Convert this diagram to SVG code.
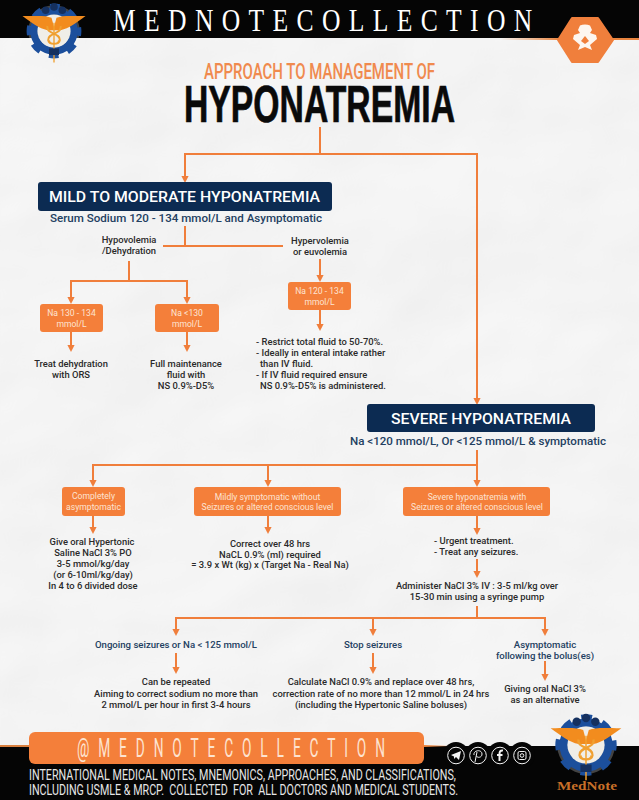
<svg xmlns="http://www.w3.org/2000/svg" width="639" height="800" viewBox="0 0 639 800">
<style>
.l{fill:none;stroke:#f07e3b;stroke-width:2}
.b{fill:#f47f3a}
.n{fill:#0c2b52}
text{font-family:"Roboto","Liberation Sans",sans-serif;text-anchor:middle}
.t{font-size:9.4px;fill:#2a2a2a;font-weight:500}
.ts{font-size:9.4px;fill:#2a2a2a;font-weight:500;text-anchor:start}
.w{font-size:8.6px;fill:#fde4d3}
.s{fill:#234061;font-weight:500}
.c{font-size:9.6px;fill:#234061;font-weight:500}
.i{fill:none;stroke:#f4f4f4;stroke-width:1}
</style>
<defs>
<filter id="paper" x="0" y="0" width="100%" height="100%">
<feTurbulence type="fractalNoise" baseFrequency="0.006 0.008" numOctaves="3" seed="11" result="n"/>
<feDiffuseLighting in="n" surfaceScale="3" diffuseConstant="1.06" lighting-color="#f8f8f8"><feDistantLight azimuth="45" elevation="65"/></feDiffuseLighting>
</filter>
<marker id="a" markerWidth="8" markerHeight="8" refX="2" refY="4" orient="auto" markerUnits="userSpaceOnUse"><path d="M0 0.4L7 4L0 7.6Z" fill="#f07e3b"/></marker>
<linearGradient id="fadeL" x1="0" x2="1" y1="0" y2="0"><stop offset="0" stop-color="#e8843f" stop-opacity="0"/><stop offset="1" stop-color="#e8843f"/></linearGradient>
<linearGradient id="fadeB" x1="0" x2="1" y1="0" y2="0"><stop offset="0" stop-color="#e8843f"/><stop offset="1" stop-color="#e8843f" stop-opacity="0"/></linearGradient>
<g id="logo">
<circle r="31" fill="#fff" opacity=".25"/>
<circle r="29" fill="none" stroke="#1c4f9c" stroke-width="8" stroke-dasharray="11.4 11.4" stroke-dashoffset="5.7"/>
<circle r="24" fill="none" stroke="#1c4f9c" stroke-width="9"/>
<circle r="20" fill="#f0eee8"/>
<circle cx="-10" cy="-25" r="4.5" fill="#15305f"/><circle cx="0" cy="-29" r="4.5" fill="#15305f"/><circle cx="10" cy="-25" r="4.5" fill="#15305f"/>
<path d="M-38 -18C-20 -18 -10 -19 -3 -16L0 -5L3 -16C10 -19 20 -18 38 -18C27 -10 18 -3 8 -1L-8 -1C-18 -3 -27 -10 -38 -18Z" fill="#f28c1e"/>
<path d="M-8 -6C-10 4 8 2 7 11C6 17 -6 17 -6 11M8 -6C10 4 -8 2 -7 11C-6 17 6 17 6 11" fill="none" stroke="#f0a030" stroke-width="2.4"/>
<path d="M0 -10V38" stroke="#f0a030" stroke-width="1.6"/>
<path d="M-6 21H6V29H-6Z" fill="#15305f"/>
</g>
</defs>
<g id="background">
<rect width="639" height="800" fill="#f3f3f3"/>
<rect width="639" height="800" filter="url(#paper)"/>
</g>
<g id="header">
<rect width="639" height="38" fill="#050505"/>
<rect x="500" y="38" width="60" height="2" fill="url(#fadeL)"/>
<rect x="610" y="38" width="29" height="2" fill="#e8843f"/>
<text transform="translate(113 31) scale(.8 1)" x="0" y="0" font-size="32" fill="#fff" textLength="524" lengthAdjust="spacing" style="font-family:'Liberation Serif',serif;text-anchor:start">MEDNOTECOLLECTION</text>
<use href="#logo" transform="translate(54 31) scale(.83)"/>
<path d="M572 18H598L613 40L598 62H572L558 40Z" fill="#f07f3c" stroke="#f07f3c" stroke-width="2" stroke-linejoin="round"/>
<path d="M580 25.500C583 24 587 24 590 25.500L592 30L590 33L596 35L597 39L590 45L592 50L585 47L578 50L580 45L573 39L574 35L580 33L578 30Z" fill="#fdf6f0"/>
<path d="M585 36L589 41L585 44L581 41Z" fill="#f07f3c"/>
</g>
<g id="title">
<text x="319.500" y="79" font-size="22" font-weight="500" fill="#f08a4e" textLength="231" lengthAdjust="spacingAndGlyphs">APPROACH TO MANAGEMENT OF</text>
<text x="319.500" y="122" font-size="52" font-weight="700" fill="#0a0a0a" stroke="#0a0a0a" stroke-width=".7" textLength="271" lengthAdjust="spacingAndGlyphs" style="font-family:'Liberation Sans',sans-serif">HYPONATREMIA</text>
</g>
<g id="connectors">
<path class="l" d="M320 127V154H185V178" marker-end="url(#a)"/>
<path class="l" d="M320 154H477V400" marker-end="url(#a)"/>
<path class="l" d="M185 226V246M163 246H283"/>
<path class="l" d="M129 261V281H71V299" marker-end="url(#a)"/>
<path class="l" d="M129 281H187V299" marker-end="url(#a)"/>
<path class="l" d="M320 259V277" marker-end="url(#a)"/>
<path class="l" d="M71 332V347" marker-end="url(#a)"/>
<path class="l" d="M187 332V347" marker-end="url(#a)"/>
<path class="l" d="M320 310V326" marker-end="url(#a)"/>
<path class="l" d="M477 450V465H93V482" marker-end="url(#a)"/>
<path class="l" d="M268 465V482" marker-end="url(#a)"/>
<path class="l" d="M477 465V482" marker-end="url(#a)"/>
<path class="l" d="M93 516V529" marker-end="url(#a)"/>
<path class="l" d="M268 516V529" marker-end="url(#a)"/>
<path class="l" d="M477 516V530" marker-end="url(#a)"/>
<path class="l" d="M477 559V573" marker-end="url(#a)"/>
<path class="l" d="M477 606V618H176V631" marker-end="url(#a)"/>
<path class="l" d="M373 618V631" marker-end="url(#a)"/>
<path class="l" d="M477 618H545V631" marker-end="url(#a)"/>
<path class="l" d="M176 653V669" marker-end="url(#a)"/>
<path class="l" d="M373 653V669" marker-end="url(#a)"/>
<path class="l" d="M545 661V676" marker-end="url(#a)"/>
</g>
<g id="n-mild">
<rect class="n" x="38" y="182" width="294" height="29" rx="3"/>
<text x="184.500" y="202" font-size="15.500" font-weight="500" fill="#fff" textLength="271" lengthAdjust="spacingAndGlyphs">MILD TO MODERATE HYPONATREMIA</text>
<text class="s" x="186" y="222" font-size="11" textLength="272" lengthAdjust="spacingAndGlyphs">Serum Sodium 120 - 134 mmol/L and Asymptomatic</text>
</g>
<g id="n-hypo"><text class="t" x="129" y="243">Hypovolemia</text><text class="t" x="129" y="254">/Dehydration</text></g>
<g id="n-hyper"><text class="t" x="320" y="244">Hypervolemia</text><text class="t" x="320" y="255">or euvolemia</text></g>
<g id="n-a"><rect class="b" x="40" y="304" width="63" height="28" rx="3"/><text class="w" x="71.500" y="316">Na 130 - 134</text><text class="w" x="71.500" y="327">mmol/L</text></g>
<g id="n-b"><rect class="b" x="155" y="304" width="64" height="28" rx="3"/><text class="w" x="187" y="316">Na &lt;130</text><text class="w" x="187" y="327">mmol/L</text></g>
<g id="n-c"><rect class="b" x="288" y="282" width="63" height="28" rx="3"/><text class="w" x="319.500" y="294">Na 120 - 134</text><text class="w" x="319.500" y="305">mmol/L</text></g>
<g id="n-a2"><text class="t" x="71" y="367">Treat dehydration</text><text class="t" x="71" y="378">with ORS</text></g>
<g id="n-b2"><text class="t" x="186" y="367">Full maintenance</text><text class="t" x="186" y="378">fluid with</text><text class="t" x="186" y="389">NS 0.9%-D5%</text></g>
<g id="n-c2">
<text class="ts" x="256" y="345">- Restrict total fluid to 50-70%.</text>
<text class="ts" x="256" y="356">- Ideally in enteral intake rather</text>
<text class="ts" x="260" y="367">than IV fluid.</text>
<text class="ts" x="256" y="378">- If IV fluid required ensure</text>
<text class="ts" x="260" y="389">NS 0.9%-D5% is administered.</text>
</g>
<g id="n-severe">
<rect class="n" x="367" y="404" width="228" height="28" rx="3"/>
<text x="481" y="424" font-size="15.500" font-weight="500" fill="#fff" textLength="180" lengthAdjust="spacingAndGlyphs">SEVERE HYPONATREMIA</text>
<text class="s" x="478" y="445" font-size="11.500" textLength="256" lengthAdjust="spacingAndGlyphs">Na &lt;120 mmol/L, Or &lt;125 mmol/L &amp; symptomatic</text>
</g>
<g id="n-d"><rect class="b" x="62" y="487" width="63" height="29" rx="3"/><text class="w" x="93.500" y="499">Completely</text><text class="w" x="93.500" y="510">asymptomatic</text></g>
<g id="n-e"><rect class="b" x="194" y="487" width="147" height="29" rx="3"/><text class="w" x="267.500" y="500">Mildly symptomatic without</text><text class="w" x="267.500" y="510">Seizures or altered conscious level</text></g>
<g id="n-f"><rect class="b" x="403" y="487" width="147" height="29" rx="3"/><text class="w" x="477" y="500">Severe hyponatremia with</text><text class="w" x="477" y="510">Seizures or altered conscious level</text></g>
<g id="n-d2"><text class="t" x="92" y="545">Give oral Hypertonic</text><text class="t" x="93" y="556">Saline NaCl 3% PO</text><text class="t" x="93" y="567">3-5 mmol/kg/day</text><text class="t" x="93" y="578">(or 6-10ml/kg/day)</text><text class="t" x="93" y="589">In 4 to 6 divided dose</text></g>
<g id="n-e2"><text class="t" x="270" y="547">Correct over 48 hrs</text><text class="t" x="270" y="558">NaCL 0.9% (ml) required</text><text class="t" x="270" y="568">= 3.9 x Wt (kg) x (Target Na - Real Na)</text></g>
<g id="n-f2"><text class="ts" x="434" y="544">- Urgent treatment.</text><text class="ts" x="434" y="555">- Treat any seizures.</text></g>
<g id="n-f3"><text class="t" x="477" y="589">Administer NaCl 3% IV : 3-5 ml/kg over</text><text class="t" x="477" y="600">15-30 min using a syringe pump</text></g>
<g id="n-g"><text class="c" x="176" y="648">Ongoing seizures or Na &lt; 125 mmol/L</text></g>
<g id="n-h"><text class="c" x="373" y="648">Stop seizures</text></g>
<g id="n-i"><text class="c" x="545" y="648">Asymptomatic</text><text class="c" x="545" y="659">following the bolus(es)</text></g>
<g id="n-g2"><text class="t" x="176" y="685">Can be repeated</text><text class="t" x="176" y="697">Aiming to correct sodium no more than</text><text class="t" x="176" y="708">2 mmol/L per hour in first 3-4 hours</text></g>
<g id="n-h2"><text class="t" x="381" y="685">Calculate NaCl 0.9% and replace over 48 hrs,</text><text class="t" x="381" y="697">correction rate of no more than 12 mmol/L in 24 hrs</text><text class="t" x="381" y="708">(including the Hypertonic Saline boluses)</text></g>
<g id="n-i2"><text class="t" x="545" y="692">Giving oral NaCl 3%</text><text class="t" x="545" y="703">as an alternative</text></g>
<g id="footer">
<rect y="746" width="639" height="54" fill="#050505"/>
<rect x="0" y="745" width="29" height="2" fill="#d9803f"/>
<rect x="424" y="745" width="25" height="2" fill="url(#fadeB)"/>
<circle cx="456" cy="755" r="13" fill="#050505"/><circle cx="478" cy="755" r="13" fill="#050505"/><circle cx="500" cy="755" r="13" fill="#050505"/><circle cx="522" cy="755" r="13" fill="#050505"/>
<rect x="29" y="732" width="395" height="32" rx="6" fill="#f47f3a"/>
<text transform="translate(77 757) scale(.55 1)" x="0" y="0" font-size="25" fill="#fde3d0" textLength="560" lengthAdjust="spacing" style="text-anchor:start">@MEDNOTECOLLECTION</text>
<text transform="translate(29 780) scale(.72 1)" x="0" y="0" font-size="14.500" fill="#e6e6e6" textLength="593" lengthAdjust="spacingAndGlyphs" style="text-anchor:start">INTERNATIONAL MEDICAL NOTES, MNEMONICS, APPROACHES, AND CLASSIFICATIONS,</text>
<text transform="translate(29 795) scale(.72 1)" x="0" y="0" font-size="14.500" fill="#e6e6e6" textLength="596" lengthAdjust="spacingAndGlyphs" xml:space="preserve" style="text-anchor:start">INCLUDING USMLE &amp; MRCP.  COLLECTED  FOR  ALL DOCTORS AND MEDICAL STUDENTS.</text>
<circle class="i" cx="456" cy="755.500" r="8.300"/><path d="M451 755L461 751L459 760L456 757L454 759V756.500Z" fill="#f4f4f4"/>
<circle class="i" cx="478" cy="755.500" r="8.300"/><path class="i" d="M477 752L475 762M474 755C473 750 482 749 482 754C482 758 477 758 476.500 756"/>
<circle class="i" cx="500" cy="755.500" r="8.300"/><path class="i" style="stroke-width:2" d="M503 750.500C500 750 499.500 752 499.500 754V761M497 755H502.500"/>
<circle class="i" cx="522" cy="755.500" r="8.300"/><rect class="i" x="518" y="751.500" width="8" height="8" rx="1.500"/><circle class="i" cx="522" cy="755.500" r="1.800"/>
<use href="#logo" transform="translate(586 745) scale(.93)"/>
<text x="587" y="790" font-size="13.500" font-weight="700" fill="#c96f28" textLength="60" lengthAdjust="spacingAndGlyphs" style="font-family:'Liberation Serif',serif">MedNote</text>
</g>
</svg>
